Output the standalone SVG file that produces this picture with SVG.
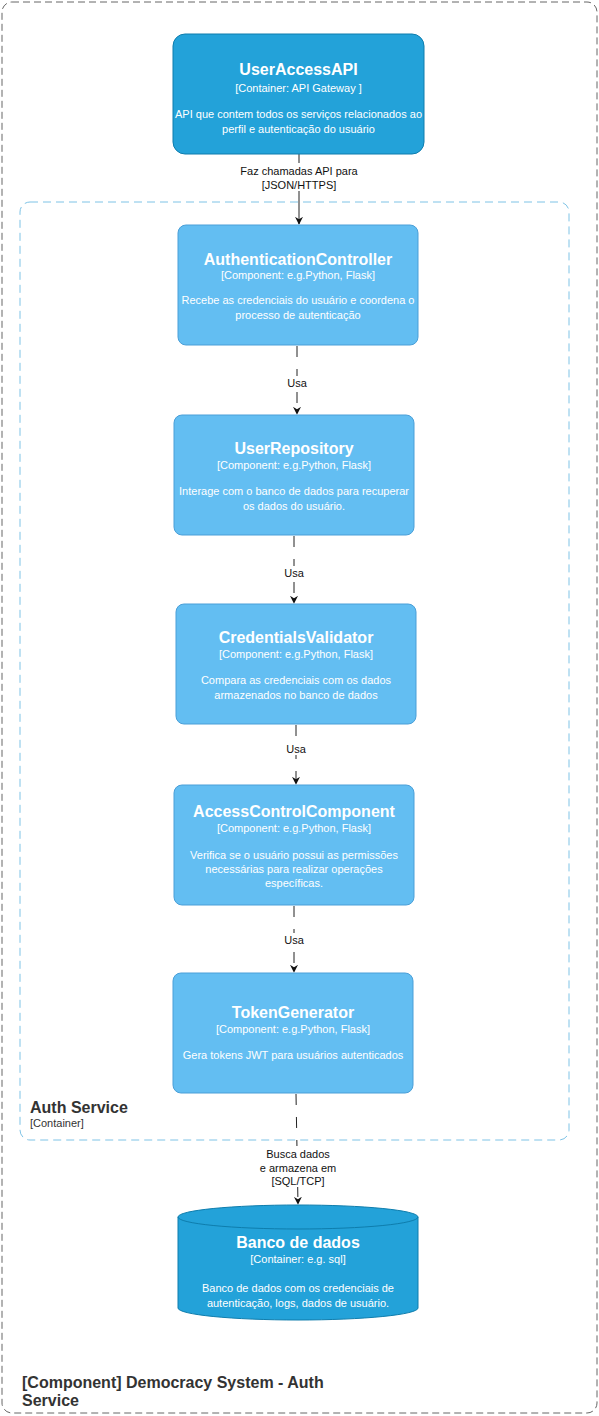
<svg xmlns="http://www.w3.org/2000/svg" width="599" height="1416" viewBox="0 0 599 1416">
<defs>
<marker id="arr" viewBox="0 0 10 10" refX="9" refY="5" markerWidth="8" markerHeight="8" markerUnits="userSpaceOnUse" orient="auto">
<path d="M0,0 L10,5 L0,10 L3,5 Z" fill="#111"/>
</marker>
<style>
text{font-family:"Liberation Sans",Arial,Helvetica,sans-serif}
.comp{fill:#63BEF2;stroke:#4A9FD8;stroke-width:1}
.cont{fill:#23A2D9;stroke:#0E7DAD;stroke-width:1}
.t{fill:#fff;font-size:16px;font-weight:bold;text-anchor:middle}
.s{fill:#fff;font-size:11px;text-anchor:middle}
.d{fill:#fff;font-size:11px;text-anchor:middle}
.lbl{fill:#111;font-size:11px;text-anchor:middle}
.edge{stroke:#222;stroke-width:1;fill:none;stroke-dasharray:11 12}
.solid{stroke:#222;stroke-width:1;fill:none}
.lbg{fill:#fff}
.bt{fill:#333;font-size:16px;font-weight:bold}
.bs{fill:#333;font-size:11px}
</style>
</defs>
<g id="system-boundary">
<rect x="2" y="2" width="595" height="1411" rx="10" fill="none" stroke="#666" stroke-dasharray="7 4"/>
<text class="bt" x="22" y="1388">[Component] Democracy System - Auth</text>
<text class="bt" x="22" y="1406">Service</text>
</g>
<g id="auth-service-boundary">
<rect x="20" y="202" width="549" height="938" rx="10" fill="none" stroke="#7EC3E6" stroke-dasharray="8 5"/>
<text class="bt" x="30" y="1113">Auth Service</text>
<text class="bs" x="30" y="1127">[Container]</text>
</g>
<g id="connectors">
<path class="solid" d="M299,154 L299,224" marker-end="url(#arr)"/>
<rect class="lbg" x="238" y="163" width="122" height="28"/>
<text class="lbl" x="299" y="175">Faz chamadas API para</text>
<text class="lbl" x="299" y="189">[JSON/HTTPS]</text>

<path class="edge" d="M297,346 L297,414" marker-end="url(#arr)"/>
<rect class="lbg" x="285" y="376" width="24" height="13"/>
<text class="lbl" x="297" y="387">Usa</text>

<path class="edge" d="M294,536 L294,603" marker-end="url(#arr)"/>
<rect class="lbg" x="282" y="566" width="24" height="13"/>
<text class="lbl" x="294" y="577">Usa</text>

<path class="edge" d="M296,725 L296,784" marker-end="url(#arr)"/>
<rect class="lbg" x="284" y="742" width="24" height="13"/>
<text class="lbl" x="296" y="753">Usa</text>

<path class="edge" d="M294,906 L294,972" marker-end="url(#arr)"/>
<rect class="lbg" x="282" y="933" width="24" height="13"/>
<text class="lbl" x="294" y="944">Usa</text>

<path class="edge" d="M296,1094 L298,1204" marker-end="url(#arr)"/>
<rect class="lbg" x="262" y="1146" width="72" height="41"/>
<text class="lbl" x="298" y="1158">Busca dados</text>
<text class="lbl" x="298" y="1172">e armazena em</text>
<text class="lbl" x="298" y="1185">[SQL/TCP]</text>
</g>
<g id="user-access-api">
<rect class="cont" x="173" y="34" width="251" height="120" rx="12"/>
<text class="t" x="298.5" y="75">UserAccessAPI</text>
<text class="s" x="298.5" y="92">[Container: API Gateway ]</text>
<text class="d" x="298.5" y="118">API que contem todos os serviços relacionados ao</text>
<text class="d" x="298.5" y="133">perfil e autenticação do usuário</text>
</g>
<g id="authentication-controller">
<rect class="comp" x="178" y="225" width="240" height="120" rx="8"/>
<text class="t" x="298" y="265">AuthenticationController</text>
<text class="s" x="298" y="279">[Component: e.g.Python, Flask]</text>
<text class="d" x="298" y="304">Recebe as credenciais do usuário e coordena o</text>
<text class="d" x="298" y="319">processo de autenticação</text>
</g>
<g id="user-repository">
<rect class="comp" x="174" y="415" width="240" height="120" rx="8"/>
<text class="t" x="294" y="454">UserRepository</text>
<text class="s" x="294" y="469">[Component: e.g.Python, Flask]</text>
<text class="d" x="294" y="495">Interage com o banco de dados para recuperar</text>
<text class="d" x="294" y="510">os dados do usuário.</text>
</g>
<g id="credentials-validator">
<rect class="comp" x="176" y="604" width="240" height="120" rx="8"/>
<text class="t" x="296" y="643">CredentialsValidator</text>
<text class="s" x="296" y="658">[Component: e.g.Python, Flask]</text>
<text class="d" x="296" y="684">Compara as credenciais com os dados</text>
<text class="d" x="296" y="699">armazenados no banco de dados</text>
</g>
<g id="access-control-component">
<rect class="comp" x="174" y="785" width="240" height="120" rx="8"/>
<text class="t" x="294" y="817">AccessControlComponent</text>
<text class="s" x="294" y="832">[Component: e.g.Python, Flask]</text>
<text class="d" x="294" y="859">Verifica se o usuário possui as permissões</text>
<text class="d" x="294" y="873">necessárias para realizar operações</text>
<text class="d" x="294" y="887">específicas.</text>
</g>
<g id="token-generator">
<rect class="comp" x="173" y="973" width="240" height="120" rx="8"/>
<text class="t" x="293" y="1018">TokenGenerator</text>
<text class="s" x="293" y="1033">[Component: e.g.Python, Flask]</text>
<text class="d" x="293" y="1059">Gera tokens JWT para usuários autenticados</text>
</g>
<g id="banco-de-dados">
<path class="cont" d="M178,1217 A120,12 0 0 1 418,1217 L418,1308 A120,12 0 0 1 178,1308 Z"/>
<path d="M178,1217 A120,12 0 0 0 418,1217" fill="none" stroke="#0E7DAD"/>
<text class="t" x="298" y="1248">Banco de dados</text>
<text class="s" x="298" y="1263">[Container: e.g. sql]</text>
<text class="d" x="298" y="1292">Banco de dados com os credenciais de</text>
<text class="d" x="298" y="1307">autenticação, logs, dados de usuário.</text>
</g>
</svg>
